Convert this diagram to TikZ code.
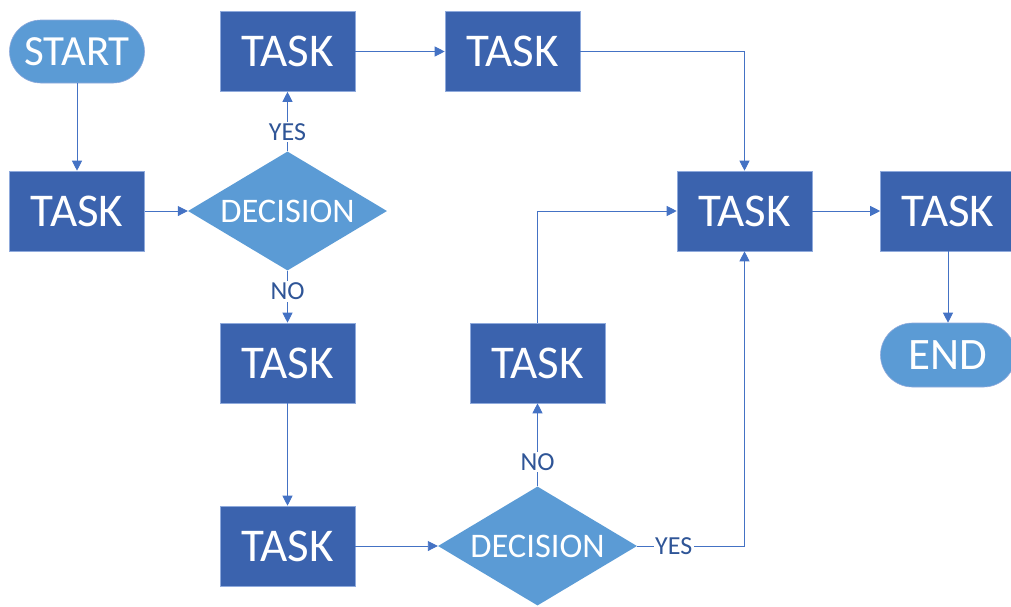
\documentclass[tikz,border=0pt]{standalone}
\usepackage{fontspec}
\setmainfont{Carlito}
\usetikzlibrary{shapes.geometric,arrows.meta}
\definecolor{taskblue}{RGB}{59,99,174}
\definecolor{lightblue}{RGB}{91,155,213}
\definecolor{linecol}{RGB}{68,114,196}
\definecolor{labelcol}{RGB}{47,85,151}
\definecolor{edgecol}{RGB}{143,170,220}
\begin{document}
\begin{tikzpicture}[x=1pt,y=-1pt,
  taskbox/.style={rectangle, fill=taskblue, draw=edgecol, line width=0.6pt, minimum width=135pt, minimum height=80pt, inner sep=0pt, text=white, font=\fontsize{47}{47}\selectfont},
  pill/.style={rectangle, rounded corners=31.5pt, fill=lightblue, draw=edgecol, line width=0.6pt, minimum width=135pt, minimum height=63pt, inner sep=0pt, text=white, font=\fontsize{44}{44}\selectfont},
  decision/.style={diamond, aspect=1.67, fill=lightblue, minimum width=199pt, minimum height=119pt, inner sep=0pt, text=white, font=\fontsize{34.5}{34.5}\selectfont},
  conn/.style={draw=linecol, line width=0.9pt, -{Triangle[length=10pt,width=10pt]}},
  lbl/.style={fill=white, text=labelcol, font=\fontsize{26}{26}\selectfont, inner sep=1.5pt}]
\useasboundingbox (0,0) rectangle (1011,606);
\clip (0,0) rectangle (1011,606);

\node[pill, font=\fontsize{43}{43}\selectfont] (start) at (77,51.5) {START};
\node[taskbox] (t1) at (77,211) {TASK};
\node[decision] (d1) at (287.5,211) {DECISION};
\node[taskbox] (t2) at (287.5,51.5) {TASK};
\node[taskbox] (t3) at (512.5,51.5) {TASK};
\node[taskbox] (t4) at (287.5,363) {TASK};
\node[taskbox] (t5) at (287.5,546) {TASK};
\node[decision] (d2) at (537.5,546) {DECISION};
\node[taskbox] (t6) at (537.5,363) {TASK};
\node[taskbox] (t7) at (744.5,211) {TASK};
\node[taskbox] (t8) at (948,211) {TASK};
\node[pill, minimum height=64pt, rounded corners=32pt, font=\fontsize{45}{45}\selectfont] (end) at (948,355) {END};

\draw[conn] (start) -- (t1);
\draw[conn] (t1) -- (d1);
\draw[conn] (d1.north) -- node[lbl,pos=0.33]{YES} (t2.south);
\draw[conn] (d1.south) -- node[lbl,pos=0.4]{NO} (t4.north);
\draw[conn] (t2) -- (t3);
\draw[conn] (t3.east) -| (t7.north);
\draw[conn] (t4) -- (t5);
\draw[conn] (t5) -- (d2);
\draw[conn] (d2.north) -- node[lbl,pos=0.29]{NO} (t6.south);
\draw[conn] (d2.east) -| node[lbl,pos=0.17]{YES} (t7.south);
\draw[conn] (t6.north) |- (t7.west);
\draw[conn] (t7) -- (t8);
\draw[conn] (t8) -- (end);
\end{tikzpicture}
\end{document}
